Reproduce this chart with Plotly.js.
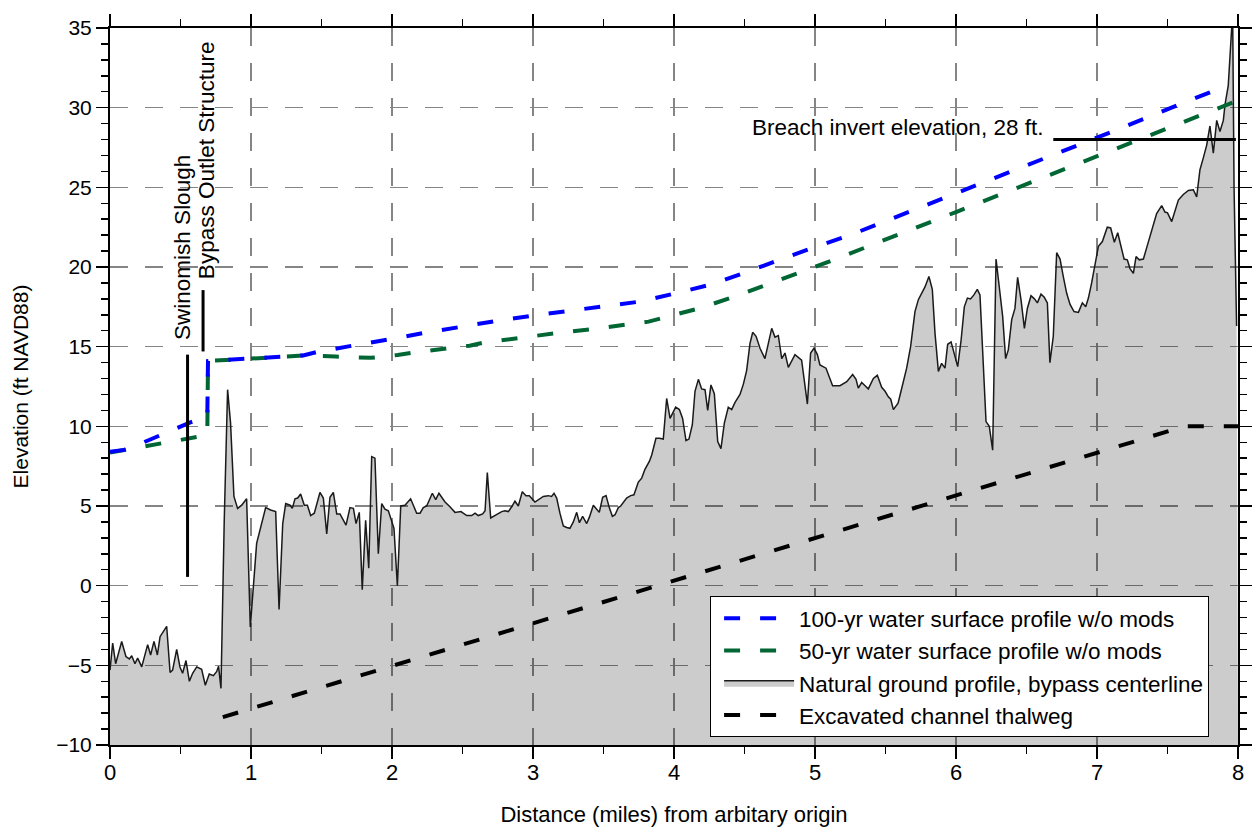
<!DOCTYPE html>
<html>
<head>
<meta charset="utf-8">
<script src="https://cdn.plot.ly/plotly-3.0.1.min.js"></script>
<style>html,body{margin:0;padding:0;background:#fff;}#chart{width:1259px;height:835px;}</style>
</head>
<body>
<div id="chart"></div>
<script>
// Natural ground profile along bypass centerline (miles, ft NAVD88)
const groundMiles = [0.000,0.019,0.040,0.083,0.113,0.137,0.154,0.177,0.196,0.225,0.267,0.288,0.312,0.336,0.355,0.402,0.426,0.444,0.473,0.496,0.515,0.539,0.563,0.586,0.615,0.650,0.676,0.704,0.733,0.756,0.770,0.787,0.810,0.834,0.855,0.879,0.905,0.934,0.969,0.995,1.040,1.070,1.104,1.139,1.175,1.199,1.225,1.246,1.277,1.293,1.312,1.331,1.352,1.378,1.400,1.423,1.449,1.489,1.513,1.537,1.560,1.584,1.608,1.631,1.674,1.702,1.726,1.745,1.768,1.789,1.813,1.835,1.856,1.879,1.903,1.927,1.950,1.974,2.014,2.038,2.062,2.092,2.132,2.175,2.199,2.222,2.246,2.286,2.310,2.333,2.376,2.411,2.447,2.489,2.530,2.565,2.589,2.612,2.643,2.660,2.676,2.700,2.730,2.754,2.778,2.801,2.825,2.849,2.872,2.896,2.924,2.950,2.974,3.014,3.073,3.108,3.132,3.149,3.168,3.191,3.215,3.239,3.262,3.286,3.310,3.329,3.352,3.381,3.400,3.428,3.470,3.494,3.518,3.541,3.563,3.582,3.605,3.622,3.641,3.664,3.693,3.716,3.747,3.771,3.794,3.825,3.842,3.872,3.896,3.924,3.948,3.972,4.012,4.038,4.061,4.085,4.106,4.130,4.149,4.173,4.196,4.220,4.239,4.262,4.286,4.310,4.333,4.357,4.385,4.409,4.433,4.456,4.468,4.492,4.515,4.539,4.558,4.582,4.610,4.645,4.669,4.693,4.716,4.740,4.764,4.787,4.811,4.858,4.905,4.946,4.969,4.993,5.017,5.035,5.078,5.125,5.177,5.225,5.267,5.291,5.307,5.331,5.355,5.378,5.414,5.442,5.473,5.497,5.520,5.537,5.556,5.589,5.603,5.626,5.650,5.678,5.709,5.733,5.757,5.780,5.808,5.832,5.851,5.875,5.898,5.922,5.941,5.965,5.988,6.012,6.036,6.059,6.081,6.103,6.127,6.151,6.170,6.189,6.213,6.236,6.260,6.284,6.307,6.331,6.352,6.371,6.395,6.418,6.437,6.461,6.485,6.506,6.532,6.556,6.577,6.603,6.626,6.648,6.666,6.690,6.714,6.738,6.761,6.785,6.809,6.837,6.868,6.896,6.920,6.939,6.962,6.986,7.010,7.038,7.073,7.097,7.123,7.147,7.168,7.192,7.215,7.234,7.258,7.277,7.300,7.329,7.352,7.376,7.400,7.423,7.459,7.482,7.500,7.530,7.577,7.612,7.648,7.683,7.707,7.730,7.754,7.778,7.801,7.825,7.849,7.872,7.896,7.908,7.931,7.955,7.962,7.972,7.990];
const groundElev = [-5.3,-3.6,-4.9,-3.5,-4.45,-4.6,-4.4,-4.9,-4.55,-5.1,-3.7,-4.35,-3.5,-4.35,-3.2,-2.55,-5.45,-5.3,-4.0,-5.1,-5.5,-4.7,-6.0,-5.5,-5.1,-5.25,-6.25,-5.55,-5.65,-5.4,-5.05,-6.45,4.0,12.3,10.2,5.6,4.85,5.05,5.45,-2.6,2.65,3.7,4.9,4.75,4.65,-1.5,3.9,5.15,5.05,4.85,5.45,5.5,5.75,5.05,5.05,4.4,4.55,5.85,5.5,3.25,5.55,5.85,4.5,4.5,3.8,4.9,4.85,3.9,4.6,-0.25,4.1,1.1,8.1,8.0,2.0,5.15,4.8,4.7,3.6,0.0,5.0,5.05,5.45,4.55,4.55,4.9,5.0,5.8,5.4,5.8,5.25,4.95,4.6,4.65,4.4,4.4,4.55,4.4,4.5,4.7,7.1,4.25,4.4,4.55,4.65,4.7,4.65,4.95,5.3,5.0,5.9,5.65,5.65,5.25,5.6,5.65,5.6,5.8,5.5,4.55,3.75,3.65,3.6,4.0,4.6,3.95,4.35,3.9,4.3,5.05,4.6,5.55,5.65,4.9,4.35,4.45,4.9,5.0,5.2,5.5,5.65,5.7,6.5,6.75,7.3,7.8,8.2,9.25,9.25,9.2,11.75,10.5,11.2,11.05,10.5,9.1,9.2,10.1,12.2,12.95,12.35,12.3,11.0,12.6,12.05,9.05,8.6,10.2,11.2,11.05,11.5,11.85,12.0,12.65,13.5,15.2,15.9,15.65,14.9,14.25,15.2,16.15,15.6,15.7,14.25,14.6,13.7,14.5,14.15,11.4,14.6,14.9,14.5,13.85,13.65,12.55,12.55,12.8,13.25,12.95,12.4,12.75,12.55,12.35,13.0,13.2,12.45,12.2,11.85,11.7,11.05,11.45,11.95,12.7,13.65,15.0,17.2,17.95,18.4,18.75,19.4,18.6,15.85,13.45,13.95,13.65,15.15,15.3,14.55,13.75,15.4,17.5,18.05,18.0,18.25,18.6,18.25,15.0,10.3,10.0,8.5,20.5,18.65,16.9,14.25,14.8,16.7,17.4,19.35,17.95,16.15,17.4,18.2,18.0,17.75,18.3,18.1,17.75,14.0,15.65,20.9,20.5,19.4,18.35,17.65,17.2,17.15,17.75,17.5,18.05,19.0,20.1,21.3,21.6,22.5,22.45,21.55,22.15,21.35,20.5,20.45,19.9,19.6,20.65,20.45,20.5,21.2,21.9,22.75,23.35,23.85,23.45,23.4,22.85,24.2,24.55,24.8,24.85,24.4,26.1,26.85,27.65,28.85,27.15,29.2,28.5,29.2,30.2,31.4,34.9,36.0,25.0,16.3];

// 100-yr water surface profile w/o mods
const wse100Miles = [0,0.1,0.24,0.35,0.57,0.69,0.695,0.72,1.0,1.37,1.48,1.73,1.99,2.24,2.49,2.75,3.0,3.25,3.5,3.76,4.01,4.27,4.5,4.75,4.99,5.24,6.0,6.6,7.14,7.61,7.9];
const wse100Elev  = [8.4,8.52,9.0,9.4,10.25,10.6,14.1,14.12,14.25,14.45,14.69,15.06,15.48,15.88,16.26,16.63,16.95,17.24,17.55,17.83,18.35,18.92,19.64,20.45,21.23,21.97,24.6,26.72,28.61,30.3,31.3];

// 50-yr water surface profile w/o mods
const wse50Miles = [0,0.25,0.5,0.68,0.69,0.695,0.72,1.0,1.37,1.6,1.85,2.04,2.15,2.4,2.55,2.66,2.91,3.16,3.43,3.68,3.82,3.94,4.18,4.43,4.67,4.91,5.15,6.0,7.0,8.0];
const wse50Elev  = [8.35,8.75,9.15,9.4,9.45,14.1,14.12,14.25,14.45,14.38,14.3,14.48,14.63,14.9,15.06,15.27,15.57,15.84,16.11,16.41,16.57,16.85,17.41,18.14,18.92,19.72,20.51,23.45,26.95,30.45];

// Excavated channel thalweg
const thalwegMiles = [0.8,7.62,8.0];
const thalwegElev  = [-8.25,10.0,10.0];

// Reference markers
const swinomishMile = 0.55, swinomishElev = [0.55, 14.5];
const bypassMile = 0.66, bypassElev = [14.7, 18.55];
const breachMiles = [6.69, 7.985], breachElev = 28;

const axisRange = {x: [0, 8], y: [-10, 35]};
const FONT = 'Liberation Sans, Arial, sans-serif';

const traces = [
  {x: [axisRange.x[0], axisRange.x[1]], y: [axisRange.y[0], axisRange.y[0]], mode: 'lines',
   line: {width: 0, color: 'rgba(0,0,0,0)'}, showlegend: false, hoverinfo: 'skip'},
  {x: groundMiles, y: groundElev, mode: 'lines', fill: 'tonexty', fillcolor: 'rgba(0,0,0,0.2)',
   line: {color: '#1a1a1a', width: 1.5}, name: 'Natural ground profile, bypass centerline', legendrank: 3},
  {x: thalwegMiles, y: thalwegElev, mode: 'lines', line: {color: '#000000', width: 4, dash: '16px,20px'},
   name: 'Excavated channel thalweg', legendrank: 4},
  {x: wse50Miles, y: wse50Elev, mode: 'lines', line: {color: '#006633', width: 4, dash: '16px,20px'},
   name: '50-yr water surface profile w/o mods', legendrank: 2},
  {x: wse100Miles, y: wse100Elev, mode: 'lines', line: {color: '#0000ff', width: 4, dash: '16px,20px'},
   name: '100-yr water surface profile w/o mods', legendrank: 1},
  {x: [swinomishMile, swinomishMile], y: swinomishElev, mode: 'lines', line: {color: '#000', width: 3}, showlegend: false},
  {x: [bypassMile, bypassMile], y: bypassElev, mode: 'lines', line: {color: '#000', width: 3}, showlegend: false},
  {x: breachMiles, y: [breachElev, breachElev], mode: 'lines', line: {color: '#000', width: 3}, showlegend: false}
];

const gridStyle = {showgrid: true, gridcolor: '#858585', gridwidth: 1.6, griddash: '18px,17px'};

const layout = {
  width: 1259, height: 835,
  margin: {l: 110, r: 21, t: 28, b: 90},
  paper_bgcolor: '#ffffff', plot_bgcolor: '#ffffff',
  showlegend: true,
  xaxis: Object.assign({
    range: axisRange.x, tick0: 0, dtick: 1, zeroline: false,
    showline: true, linecolor: '#000', linewidth: 2, mirror: 'ticks',
    ticks: 'outside', ticklen: 12, tickwidth: 1.5, tickcolor: '#000', ticklabelstandoff: -5,
    minor: {dtick: 0.5, ticks: 'outside', ticklen: 7, tickwidth: 1.5, tickcolor: '#000', showgrid: false},
    tickfont: {family: FONT, size: 22, color: '#000'},
    title: {text: 'Distance (miles) from arbitary origin', font: {family: FONT, size: 22, color: '#000'}, standoff: 22}
  }, gridStyle),
  yaxis: Object.assign({
    range: axisRange.y, tick0: 0, dtick: 5, zeroline: false,
    showline: true, linecolor: '#000', linewidth: 2, mirror: 'ticks',
    ticks: 'outside', ticklen: 12, tickwidth: 1.5, tickcolor: '#000',
    minor: {dtick: 1, ticks: 'outside', ticklen: 7, tickwidth: 1.5, tickcolor: '#000', showgrid: false},
    tickfont: {family: FONT, size: 21, color: '#000'},
    title: {text: 'Elevation (ft NAVD88)', font: {family: FONT, size: 21, color: '#000'}, standoff: 22}
  }, gridStyle),
  legend: {
    x: 0.532, y: 0.011, xanchor: 'left', yanchor: 'bottom', traceorder: 'normal',
    bgcolor: '#ffffff', bordercolor: '#000', borderwidth: 1,
    font: {family: FONT, size: 22.5, color: '#000'}, itemwidth: 70, indentation: 8, tracegroupgap: 0
  },
  annotations: [
    {x: 0.518, y: 21.2, xref: 'x', yref: 'y', text: 'Swinomish Slough', textangle: -90, showarrow: false,
     xanchor: 'center', yanchor: 'middle', font: {family: FONT, size: 22.5, color: '#000'}},
    {x: 0.68, y: 26.7, xref: 'x', yref: 'y', text: 'Bypass Outlet Structure', textangle: -90, showarrow: false,
     xanchor: 'center', yanchor: 'middle', font: {family: FONT, size: 22.5, color: '#000'}},
    {x: 6.63, y: 28.75, xref: 'x', yref: 'y', text: 'Breach invert elevation, 28 ft.', showarrow: false,
     xanchor: 'right', yanchor: 'middle', font: {family: FONT, size: 22.5, color: '#000'}}
  ]
};

Plotly.newPlot('chart', traces, layout, {displayModeBar: false, staticPlot: true});
</script>
</body>
</html>
